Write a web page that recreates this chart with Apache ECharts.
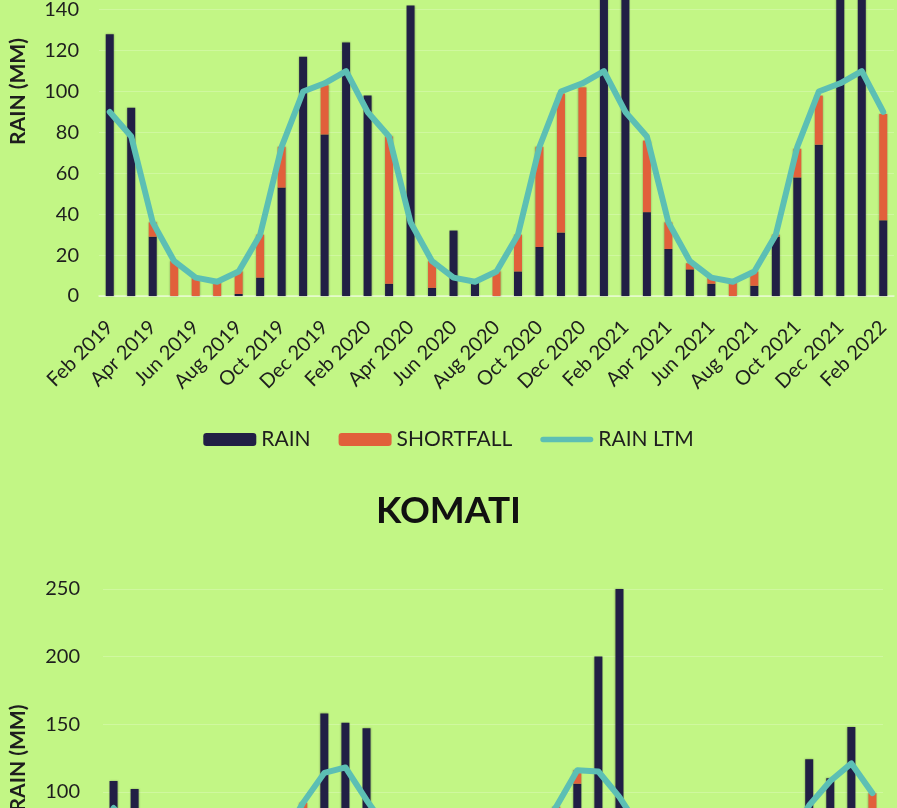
<!DOCTYPE html>
<html>
<head>
<meta charset="utf-8">
<script src="https://cdn.jsdelivr.net/npm/echarts@6/dist/echarts.min.js"></script>
<style>
  html, body { margin: 0; padding: 0; overflow: hidden; background: #c2f685; width: 897px; height: 808px; }
  #main { position: absolute; left: 0; top: -160px; width: 897px; height: 1260px; }
</style>
</head>
<body>
<div id="main"></div>
<script>
// 月份
var months = ['Feb 2019','Mar 2019','Apr 2019','May 2019','Jun 2019','Jul 2019','Aug 2019','Sep 2019','Oct 2019','Nov 2019','Dec 2019','Jan 2020',
              'Feb 2020','Mar 2020','Apr 2020','May 2020','Jun 2020','Jul 2020','Aug 2020','Sep 2020','Oct 2020','Nov 2020','Dec 2020','Jan 2021',
              'Feb 2021','Mar 2021','Apr 2021','May 2021','Jun 2021','Jul 2021','Aug 2021','Sep 2021','Oct 2021','Nov 2021','Dec 2021','Jan 2022','Feb 2022'];

// 上图
var rainTop      = [128, 92, 29, 0, 0, 0, 1, 9, 53, 117, 79, 124, 98, 6, 142, 4, 32, 7, 0, 12, 24, 31, 68, 170, 185, 41, 23, 13, 6, 0, 5, 29, 58, 74, 165, 175, 37];
var shortfallTop = [0, 0, 7, 17, 9, 7, 11, 21, 20, 0, 24, 0, 0, 72, 0, 13, 0, 0, 12, 18, 49, 68, 34, 0, 0, 35, 13, 3, 3, 7, 7, 1, 14, 24, 0, 0, 52];
var ltmTop       = [90, 78, 36, 17, 9, 7, 12, 30, 73, 100, 104, 110, 90, 78, 36, 17, 9, 7, 12, 30, 73, 100, 104, 110, 90, 78, 36, 17, 9, 7, 12, 30, 73, 100, 104, 110, 90];

// KOMATI
var rainKomati      = [108, 102, 35, 8, 5, 3, 10, 25, 50, 80, 158, 151, 147, 40, 60, 10, 20, 5, 6, 15, 40, 70, 106, 200, 250, 60, 30, 15, 8, 4, 8, 30, 55, 124, 110, 148, 75];
var shortfallKomati = [0, 0, 7, 12, 7, 7, 5, 10, 15, 12, 0, 0, 0, 32, 0, 10, 0, 5, 9, 20, 25, 19, 10, 0, 0, 12, 12, 5, 4, 6, 7, 5, 10, 0, 0, 0, 24];
var ltmKomati       = [88, 72, 42, 20, 12, 10, 15, 35, 65, 92, 114, 118, 94, 72, 42, 20, 12, 10, 15, 35, 65, 89, 116, 115, 96, 72, 42, 20, 12, 10, 15, 35, 65, 90, 108, 121, 99];

var NAVY = '#211f45', ORANGE = '#e1603b', TEAL = '#5cbfb4', TXT = '#1e1e1e';
var FONT = 'Lato';

var myChart = echarts.init(document.getElementById('main'));

function xAxisOf(idx) {
    return {
        type: 'category', gridIndex: idx, data: months,
        axisLine: { show: true, lineStyle: { color: 'rgba(255,255,255,0.6)', width: 1.5 } },
        axisTick: { show: false },
        axisLabel: { interval: 1, rotate: 45, fontSize: 20, color: TXT, fontFamily: FONT, margin: 28 }
    };
}
function yAxisOf(idx, max, interval, gap, margin) {
    return {
        type: 'value', gridIndex: idx, min: 0, max: max, interval: interval,
        name: 'RAIN (MM)', nameLocation: 'middle', nameGap: gap,
        nameTextStyle: { fontSize: 21, fontWeight: 'bold', color: TXT, fontFamily: FONT },
        axisLine: { show: false }, axisTick: { show: false },
        axisLabel: { fontSize: 20, color: TXT, fontFamily: FONT, margin: margin },
        splitLine: { lineStyle: { color: 'rgba(255,255,255,0.22)', width: 1 } }
    };
}
function seriesOf(idx, rain, shortfall, ltm) {
    var barStyle = { shadowColor: 'rgba(0,0,0,0.3)', shadowBlur: 2 };
    return [
        { name: 'RAIN', type: 'bar', stack: 's' + idx, xAxisIndex: idx, yAxisIndex: idx, data: rain, barWidth: 8,
          itemStyle: Object.assign({ color: NAVY }, barStyle) },
        { name: 'SHORTFALL', type: 'bar', stack: 's' + idx, xAxisIndex: idx, yAxisIndex: idx, data: shortfall, barWidth: 8,
          itemStyle: Object.assign({ color: ORANGE }, barStyle) },
        { name: 'RAIN LTM', type: 'line', xAxisIndex: idx, yAxisIndex: idx, data: ltm, symbol: 'none', z: 5,
          lineStyle: { color: TEAL, width: 6, join: 'round', cap: 'round' }, itemStyle: { color: TEAL } }
    ];
}

var option = {
    backgroundColor: '#c2f685',
    animation: false,
    title: {
        text: 'KOMATI', left: 'center', top: 648,
        textStyle: { fontSize: 37, fontWeight: 'bold', color: '#111', fontFamily: FONT }
    },
    legend: {
        top: 584, left: 'center', itemWidth: 53, itemHeight: 13, itemGap: 28,
        textStyle: { fontSize: 21, color: TXT, fontFamily: FONT },
        data: ['RAIN', 'SHORTFALL',
               { name: 'RAIN LTM', icon: 'path://M3,0 L55,0 A3,3 0 0 1 55,6 L3,6 A3,3 0 0 1 3,0 Z' }]
    },
    grid: [
        { left: 96, right: 3, top: 47, height: 409 },
        { left: 102, right: 14, top: 749, height: 338 }
    ],
    xAxis: [xAxisOf(0), xAxisOf(1)],
    yAxis: [yAxisOf(0, 200, 20, 70, 20), yAxisOf(1, 250, 50, 74, 23)],
    series: seriesOf(0, rainTop, shortfallTop, ltmTop).concat(seriesOf(1, rainKomati, shortfallKomati, ltmKomati))
};

myChart.setOption(option);
</script>
</body>
</html>
